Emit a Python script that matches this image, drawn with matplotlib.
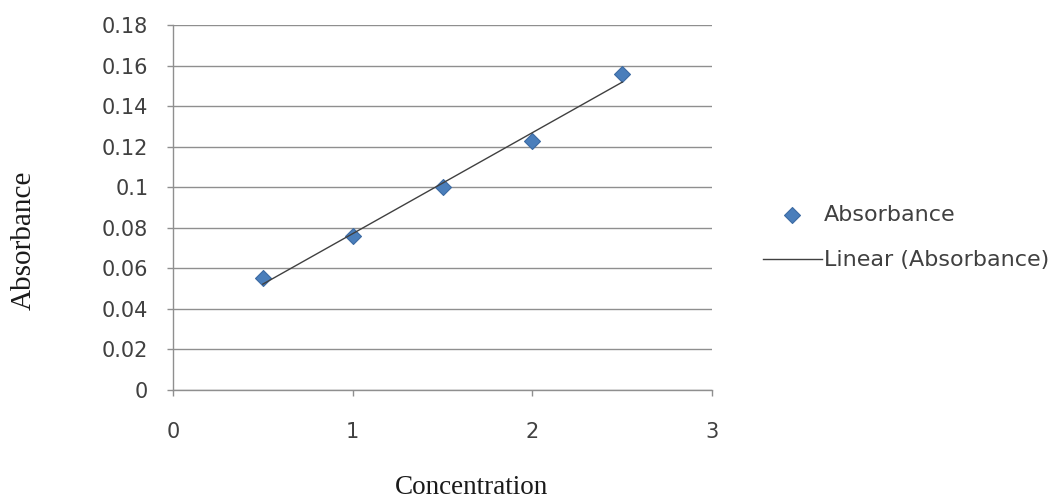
import numpy as np
import matplotlib
matplotlib.use("Agg")
import matplotlib.pyplot as plt

# data
concentration = [0.5, 1.0, 1.5, 2.0, 2.5]
absorbance = [0.055, 0.076, 0.100, 0.123, 0.156]

x_ticks = [0, 1, 2, 3]
y_ticks = [0, 0.02, 0.04, 0.06, 0.08, 0.1, 0.12, 0.14, 0.16, 0.18]
y_tick_labels = ["0", "0.02", "0.04", "0.06", "0.08", "0.1", "0.12", "0.14", "0.16", "0.18"]

W, H = 1054, 499
fig = plt.figure(figsize=(W / 100, H / 100), dpi=100)
# plot area: x 173..712 px, y 25..390 px
ax = fig.add_axes([173 / W, 1 - 390 / H, 539 / W, 365 / H])

grid_col = "#8f8f8f"
text_col = "#404040"
ax.set_xlim(0, 3)
ax.set_ylim(0, 0.18)
ax.set_yticks(y_ticks)
ax.set_yticklabels(y_tick_labels)
ax.set_xticks(x_ticks)
ax.yaxis.grid(True, color=grid_col, linewidth=1.0)
ax.set_axisbelow(True)
for side in ["top", "right"]:
    ax.spines[side].set_visible(False)
for side in ["left", "bottom"]:
    ax.spines[side].set_color(grid_col)
    ax.spines[side].set_linewidth(1.0)
ax.tick_params(axis="both", colors=grid_col, length=4.3, width=1.0, direction="out",
               labelsize=15, labelcolor=text_col)
ax.tick_params(axis="y", pad=13.5)
ax.tick_params(axis="x", pad=18.5)
for lab in ax.get_xticklabels() + ax.get_yticklabels():
    lab.set_family("DejaVu Sans")

# measured points
ax.scatter(concentration, absorbance, marker="D", s=66, color="#4a7ebb",
           edgecolors="#3d6ba3", linewidths=0.8, zorder=3, label="Absorbance", clip_on=False)

# linear trendline
slope, intercept = np.polyfit(concentration, absorbance, 1)
xs = np.array([concentration[0], concentration[-1]])
ax.plot(xs, slope * xs + intercept, color="#404040", linewidth=1.0, zorder=4,
        label="Linear (Absorbance)")

ax.set_xlabel("Concentration", family="Liberation Serif", fontsize=19.5, color="#1a1a1a")
ax.xaxis.set_label_coords(472 / W, 1 - 488 / H, transform=fig.transFigure)
ax.xaxis.label.set_va("center")
ax.set_ylabel("Absorbance", family="Liberation Serif", fontsize=21, color="#1a1a1a")
ax.yaxis.set_label_coords(24 / W, 1 - 240 / H, transform=fig.transFigure)
ax.yaxis.label.set_va("center")

leg = ax.legend(loc="center left", bbox_to_anchor=(763 / W, 1 - 237.5 / H),
                bbox_transform=fig.transFigure, frameon=False, borderpad=0,
                borderaxespad=0, prop={"family": "DejaVu Sans", "size": 16},
                handlelength=2.65, handletextpad=0.1, labelspacing=1.15,
                scatterpoints=1, markerscale=1.0)
for t in leg.get_texts():
    t.set_color(text_col)

fig.savefig("out.png", dpi=100)
